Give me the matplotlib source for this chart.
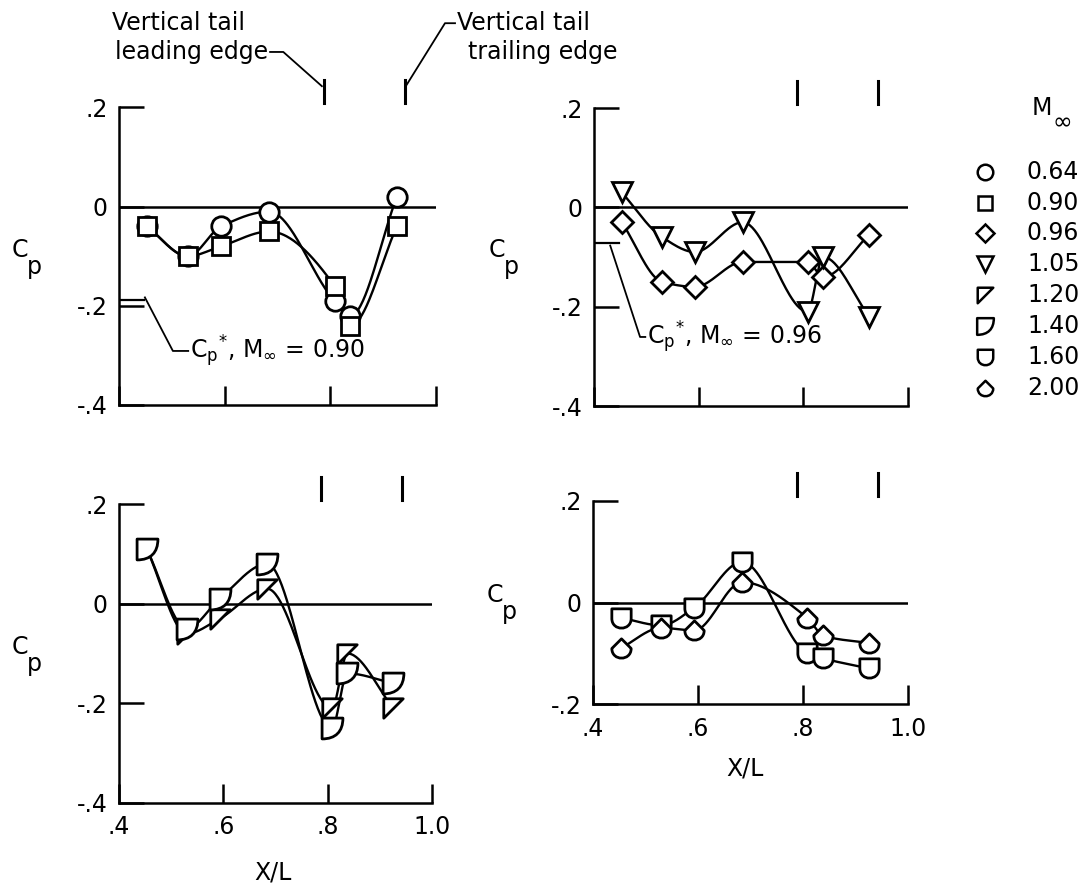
import numpy as np
import matplotlib
matplotlib.use("Agg")
import matplotlib.pyplot as plt
from matplotlib.path import Path

W, H = 1083, 886
plt.rcParams['font.family'] = ['Liberation Sans Narrow', 'DejaVu Sans']
plt.rcParams['mathtext.fontset'] = 'dejavusans'
FS = 17

# orifice stations along the body, X/L
x_stations = [0.453, 0.530, 0.593, 0.684, 0.808, 0.838, 0.926]

mach_labels = ['0.64', '0.90', '0.96', '1.05', '1.20', '1.40', '1.60', '2.00']
cp_064 = [-0.04, -0.10, -0.04, -0.01, -0.19, -0.22, 0.02]
cp_090 = [-0.04, -0.10, -0.08, -0.05, -0.16, -0.24, -0.04]
cp_096 = [-0.03, -0.15, -0.16, -0.11, -0.11, -0.14, -0.055]
cp_105 = [0.03, -0.06, -0.09, -0.03, -0.21, -0.10, -0.22]
cp_120 = [0.11, -0.06, -0.03, 0.03, -0.21, -0.10, -0.21]
cp_140 = [0.11, -0.05, 0.01, 0.08, -0.25, -0.14, -0.16]
cp_160 = [-0.03, -0.045, -0.01, 0.08, -0.10, -0.11, -0.13]
cp_200 = [-0.09, -0.05, -0.055, 0.04, -0.03, -0.065, -0.08]

# critical pressure coefficients
cp_star_090 = -0.188
cp_star_096 = -0.072

# vertical tail leading / trailing edge stations
tail_le, tail_te = 0.788, 0.942

# flagged symbols for the supersonic runs
MV, LN, CV, CL = Path.MOVETO, Path.LINETO, Path.CURVE4, Path.CLOSEPOLY
wedge = Path([(-1, 1), (1, 1), (-1, -1), (-1, 1)], [MV, LN, LN, CL])
d_flag = Path([(-1, 1), (1, 1), (1, -0.3), (0.3, -1), (-1, -1), (-1, 1)],
              [MV, LN, CV, CV, CV, CL])
u_flag = Path([(-1, 1), (1, 1), (1, 0), (1, -1.33), (-1, -1.33), (-1, 0), (-1, 1)],
              [MV, LN, LN, CV, CV, CV, CL])
kite = Path([(-1, 0), (0, 1), (1, 0), (1, -1.33), (-1, -1.33), (-1, 0), (-1, 0)],
            [MV, LN, LN, CV, CV, CV, CL])

markers = {'0.64': ('o', 14), '0.90': ('s', 13), '0.96': ('D', 11.5),
           '1.05': ('v', 14), '1.20': (wedge, 14), '1.40': (d_flag, 15),
           '1.60': (u_flag, 18.5), '2.00': (kite, 18.5)}


def pchip(x, y, n=200):
    x = np.asarray(x, float)
    y = np.asarray(y, float)
    h = np.diff(x)
    d = np.diff(y) / h
    m = np.zeros_like(y)
    m[0], m[-1] = d[0], d[-1]
    for k in range(1, len(x) - 1):
        if d[k - 1] * d[k] > 0:
            w1 = 2 * h[k] + h[k - 1]
            w2 = h[k] + 2 * h[k - 1]
            m[k] = (w1 + w2) / (w1 / d[k - 1] + w2 / d[k])
    xs = np.linspace(x[0], x[-1], n)
    i = np.clip(np.searchsorted(x, xs) - 1, 0, len(x) - 2)
    t = (xs - x[i]) / h[i]
    h00 = 2 * t**3 - 3 * t**2 + 1
    h10 = t**3 - 2 * t**2 + t
    h01 = -2 * t**3 + 3 * t**2
    h11 = t**3 - t**2
    ys = h00 * y[i] + h10 * h[i] * m[i] + h01 * y[i + 1] + h11 * h[i] * m[i + 1]
    return xs, ys


def px_axes(left, top, right, bottom):
    return fig.add_axes([left / W, 1 - bottom / H, (right - left) / W, (bottom - top) / H])


def draw_panel(ax, ylo, series, xlabels):
    ax.set_xlim(0.4, 1.0)
    ax.set_ylim(ylo, 0.2)
    for s in ['top', 'right']:
        ax.spines[s].set_visible(False)
    for s in ['left', 'bottom']:
        ax.spines[s].set_linewidth(1.8)
    ax.axhline(0, color='k', lw=1.8)
    yt = [v for v in [-0.4, -0.2, 0, 0.2] if v >= ylo - 1e-9]
    ax.set_yticks(yt)
    ax.set_yticklabels([{-0.4: '-.4', -0.2: '-.2', 0: '0', 0.2: '.2'}[v] for v in yt])
    ax.set_xticks([0.4, 0.6, 0.8, 1.0])
    if xlabels:
        ax.set_xticklabels(['.4', '.6', '.8', '1.0'])
    else:
        ax.set_xticklabels([])
    ax.tick_params(axis='y', direction='in', length=18, width=1.8, pad=8, labelsize=FS)
    ax.tick_params(axis='x', direction='in', length=14, width=1.8, pad=9, labelsize=FS)
    for lab, cp in series:
        xs, ys = pchip(x_stations, cp)
        ax.plot(xs, ys, color='k', lw=1.7, zorder=2)
        mk, ms = markers[lab]
        ax.plot(x_stations, cp, ls='none', marker=mk, ms=ms, mfc='white',
                mec='k', mew=2, zorder=3, clip_on=False)
    for xt in (tail_le, tail_te):
        ax.plot([xt, xt], [0.209, 0.255], color='k', lw=2.2, clip_on=False)


def cp_star(ax, value, leader, label):
    ax.plot([0.4, 0.447], [value, value], color='k', lw=1.6)
    lx, ly = zip(*leader)
    ax.plot(lx, ly, color='k', lw=1.3, clip_on=False)
    ax.text(leader[-1][0] + 0.004, leader[-1][1],
            r'C$_\mathregular{p}$$^\mathregular{*}$, M$_\infty$ = %s' % label,
            fontsize=FS, ha='left', va='center')


fig = plt.figure(figsize=(W / 100, H / 100), dpi=100)

ax_tl = px_axes(119, 107.5, 436, 405)
ax_tr = px_axes(594, 108, 908, 406)
ax_bl = px_axes(119, 504, 432, 803)
ax_br = px_axes(593, 501, 908, 704)

draw_panel(ax_tl, -0.4, [('0.64', cp_064), ('0.90', cp_090)], False)
draw_panel(ax_tr, -0.4, [('0.96', cp_096), ('1.05', cp_105)], False)
draw_panel(ax_bl, -0.4, [('1.20', cp_120), ('1.40', cp_140)], True)
draw_panel(ax_br, -0.2, [('1.60', cp_160), ('2.00', cp_200)], True)

cp_star(ax_tl, cp_star_090, [(0.449, -0.183), (0.502, -0.291), (0.531, -0.291)], '0.90')
cp_star(ax_tr, cp_star_096, [(0.431, -0.077), (0.488, -0.261), (0.498, -0.261)], '0.96')

# tail edge callouts
ax_tl.text(0.512, 0.37, 'Vertical tail', fontsize=FS, ha='center', va='center')
ax_tl.text(0.682, 0.312, 'leading edge', fontsize=FS, ha='right', va='center')
ax_tl.plot([0.686, 0.711, 0.784], [0.312, 0.312, 0.243], color='k', lw=1.3, clip_on=False)
ax_tl.text(1.040, 0.37, 'Vertical tail', fontsize=FS, ha='left', va='center')
ax_tl.text(1.061, 0.312, 'trailing edge', fontsize=FS, ha='left', va='center')
ax_tl.plot([1.036, 1.017, 0.944], [0.37, 0.37, 0.245], color='k', lw=1.3, clip_on=False)

# axis titles
for cx, cy in [(20, 250), (497, 250), (20, 647), (495, 595)]:
    fig.text(cx / W, 1 - cy / H, 'C', fontsize=FS, ha='center', va='center')
    fig.text((cx + 14) / W, 1 - (cy + 17) / H, 'p', fontsize=FS, ha='center', va='center')
for cx, cy in [(273, 873), (745, 768)]:
    fig.text(cx / W, 1 - cy / H, 'X/L', fontsize=FS, ha='center', va='center')

# Mach number key
leg = px_axes(960, 90, 1083, 400)
leg.set_xlim(960, 1083)
leg.set_ylim(400, 90)
leg.axis('off')
leg.text(1042, 108, 'M', fontsize=FS, ha='center', va='center')
leg.text(1062, 120, r'$\infty$', fontsize=FS, ha='center', va='center')
row_y = [172, 203, 233, 264, 295, 326, 357, 388]
for lab, yy in zip(mach_labels, row_y):
    mk, ms = markers[lab]
    leg.plot([985], [yy], ls='none', marker=mk, ms=ms * 0.8, mfc='white',
             mec='k', mew=1.8, clip_on=False)
    leg.text(1027, yy, lab, fontsize=FS, ha='left', va='center')

fig.savefig('out.png', dpi=100)
